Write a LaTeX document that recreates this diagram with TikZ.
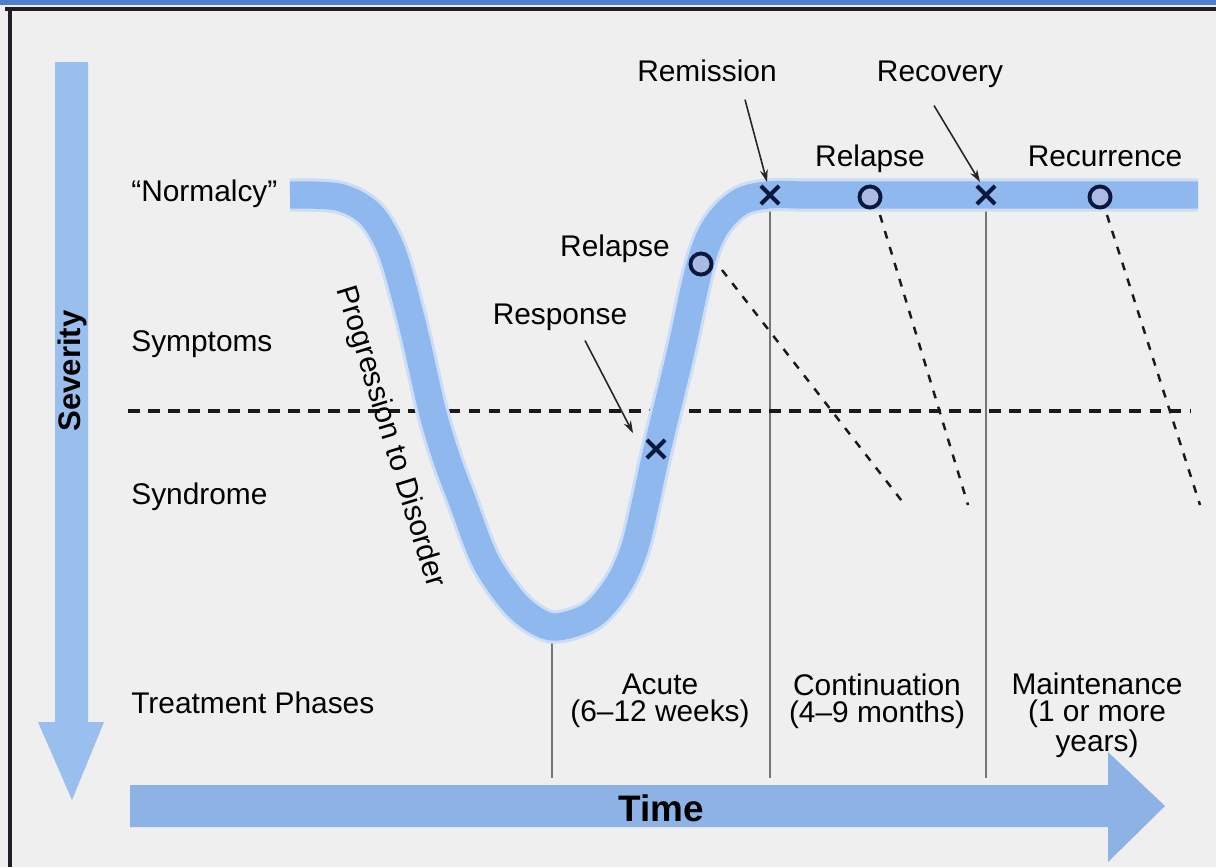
\documentclass[tikz,border=0pt]{standalone}
\usepackage{fontspec}
\setmainfont{Liberation Sans}
\usetikzlibrary{shapes.misc,arrows.meta,calc}
\definecolor{bg}{RGB}{239,239,239}
\definecolor{band}{RGB}{143,185,238}
\definecolor{bandedge}{RGB}{204,222,246}
\definecolor{navy}{RGB}{10,24,62}
\definecolor{markfill}{RGB}{170,186,226}
\definecolor{phase}{RGB}{118,118,118}
\definecolor{sevblue}{RGB}{152,191,238}
\definecolor{timeblue}{RGB}{140,178,230}
\definecolor{topblue}{RGB}{78,126,205}
\definecolor{framec}{RGB}{30,30,40}

\begin{document}
\begin{tikzpicture}[x=0.02cm,y=-0.02cm,
  lbl/.style={font=\fontsize{17}{15.6}\selectfont, inner sep=0pt, align=center},
  boldlbl/.style={font=\fontsize{17.7}{20}\selectfont\bfseries, inner sep=0pt},
  xmark/.style={cross out, draw=navy, line width=2.3pt, minimum size=8pt, inner sep=0pt},
  omark/.style={circle, draw=navy, fill=markfill, line width=2.2pt, minimum size=12pt, inner sep=0pt},
  ptr/.style={-{Stealth[length=7pt,width=4.5pt]}, line width=0.9pt, draw=black!85},
  course/.style={draw=black!90, dash pattern=on 4.5pt off 5pt, line width=1.4pt},
  threshold/.style={draw=black!90, dash pattern=on 6.8pt off 4.6pt, line width=2pt},
  phaseline/.style={draw=phase, line width=1.3pt},
]
\useasboundingbox (0,0) rectangle (1216,867);
\fill[bg] (0,0) rectangle (1216,867);

% window frame
\fill[topblue] (0,0) rectangle (1216,5);
\draw[framec, line width=1.8pt] (5,9) -- (1216,9);
\draw[framec, line width=1.8pt] (10,9) -- (10,867);

% reference points
\coordinate (low) at (552,640);
\coordinate (remP) at (770,195);
\coordinate (recP) at (986,195);
\coordinate (base) at (0,778);
\coordinate (thrL) at (128,411);
\coordinate (thrR) at (1190,411);

% phase separators
\draw[phaseline] (low) -- (low |- base);
\draw[phaseline] (remP) -- (remP |- base);
\draw[phaseline] (recP) -- (recP |- base);

% symptoms / syndrome threshold
\draw[threshold] (thrL) -- (thrR);

% severity axis
\fill[sevblue] (55,62) -- (88,62) -- (88,722) -- (104,722) -- (72,800)
  -- (38,722) -- (55,722) -- cycle;
\node[boldlbl, rotate=90] (sev) at (72,371) {Severity};

% time axis
\fill[timeblue] (130,785) -- (1108,785) -- (1108,752) -- (1165,806)
  -- (1108,862) -- (1108,827) -- (130,827) -- cycle;
\node[font=\fontsize{21}{24}\selectfont\bfseries, inner sep=0pt] (time) at (661,808) {Time};

% course of the illness
\def\course{(290,195) (338,197) (368,212) (386,238) (398,270) (415,335)
  (432,410) (447,460) (462,500) (485,560) (512,600) (535,620) (557,627)
  (592,615) (618,585) (634,550) (645,505) (657,450) (680,355) (700,265)
  (716,226) (740,202) (768,195) (800,195)}
\draw[line width=19pt, bandedge] plot[smooth, tension=0.55] coordinates {\course} -- (1198,195);
\draw[line width=15.5pt, band] plot[smooth, tension=0.55] coordinates {\course} -- (1198,195);

% outcome markers
\node[xmark] (respX) at (656,449) {};
\node[xmark] (remX) at (remP) {};
\node[xmark] (recX) at (recP) {};
\node[omark] (rel1) at (701,264) {};
\node[omark] (rel2) at (870,197) {};
\node[omark] (recur) at (1100,197) {};

% possible courses after relapse / recurrence
\coordinate (e1) at (905,505);
\coordinate (e2) at (968,505);
\coordinate (e3) at (1200,505);
\draw[course] ($(rel1)+(21,6)$) -- (e1);
\draw[course] ($(rel2)+(10,18)$) -- (e2);
\draw[course] ($(recur)+(7,18)$) -- (e3);

% level labels
\node[lbl, anchor=base west] (norm) at (131,201) {“Normalcy”};
\node[lbl, anchor=base west] (symp) at (131,351) {Symptoms};
\node[lbl, anchor=base west] (synd) at (131,504) {Syndrome};
\node[lbl, anchor=base west] (treat) at (131,713) {Treatment Phases};
\node[lbl, rotate=-73] (prog) at (390,437) {Progression to Disorder};

% outcome labels
\node[lbl, anchor=base] (remL) at (707,81) {Remission};
\node[lbl, anchor=base] (recL) at (940,81) {Recovery};
\node[lbl, anchor=base] (rel2L) at (870,166) {Relapse};
\node[lbl, anchor=base] (recurL) at (1105,166) {Recurrence};
\node[lbl, anchor=base] (rel1L) at (615,256) {Relapse};
\node[lbl, anchor=base] (respL) at (560,324) {Response};

\draw[ptr] ($(remL.south)+(38,18)$) -- ($(remX)+(-3,-13)$);
\draw[ptr] ($(recL.south)+(-6,18)$) -- ($(recX)+(-6,-13)$);
\draw[ptr] ($(respL.south)+(25,10)$) -- ($(respX)+(-23,-16)$);

% treatment phases
\node[lbl] (acute) at (660,701) {Acute\\(6–12 weeks)};
\node[lbl] (cont) at (877,701) {Continuation\\(4–9 months)};
\node[lbl] (maint) at (1097,715) {Maintenance\\(1 or more\\years)};
\end{tikzpicture}
\end{document}
